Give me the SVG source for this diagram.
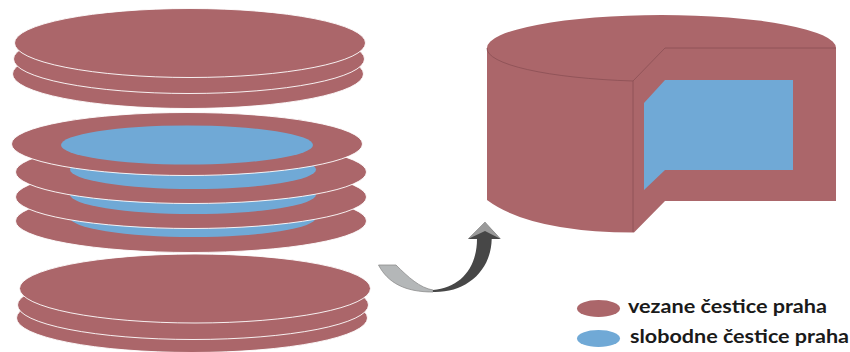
<svg xmlns="http://www.w3.org/2000/svg" width="850" height="352" viewBox="0 0 850 352">
<style>
.d{fill:#ab666a;stroke:#fff;stroke-width:.9}
.b{fill:#70a9d6}
.e{fill:none;stroke:#8a4f54;stroke-width:.8}
.t{font-family:Lato,"Open Sans","Liberation Sans",sans-serif;font-weight:700;font-size:19px;fill:#1a1a1a}
</style>
<rect width="850" height="352" fill="#fff"/>
<g id="top-stack">
<ellipse class="d" cx="188" cy="74" rx="175.5" ry="34.5"/>
<ellipse class="d" cx="189" cy="59" rx="175.5" ry="34.5"/>
<ellipse class="d" cx="190" cy="43" rx="175.5" ry="34.5"/>
</g>
<g id="middle-stack">
<ellipse class="d" cx="191" cy="221" rx="175.5" ry="31.5"/>
<ellipse class="b" cx="193" cy="217.5" rx="123" ry="19.5"/>
<ellipse class="d" cx="191" cy="197" rx="175.5" ry="31.5"/>
<ellipse class="b" cx="193" cy="194.5" rx="123" ry="19.5"/>
<ellipse class="d" cx="191" cy="172" rx="175.5" ry="31.5"/>
<ellipse class="b" cx="193" cy="169.5" rx="123" ry="19.5"/>
<ellipse class="d" cx="187" cy="144" rx="175.5" ry="31.5"/>
<ellipse class="b" cx="187" cy="145" rx="126" ry="19.5"/>
</g>
<g id="bottom-stack">
<ellipse class="d" cx="192" cy="318" rx="175.5" ry="34.5"/>
<ellipse class="d" cx="193" cy="305" rx="175.5" ry="34.5"/>
<ellipse class="d" cx="195" cy="288.5" rx="175.5" ry="34.5"/>
</g>
<g id="cylinder">
<path d="M487,48A174.5,33 0 0 1 836,48V201H665L634,232.5Q530,232 487,200Z" fill="#ab666a"/>
<path class="e" d="M487,48A174.5,33 0 0 0 633,81L665,48H836M633,81V232"/>
<path class="b" d="M665,80H793V170H665L644,190V103Z"/>
</g>
<g id="arrow">
<path d="M378.5,265H396C408,277 420,288 433,290V292C405,292 388,283 378.5,265Z" fill="#b4b7b8" stroke="#8d8d8d" stroke-width=".8"/>
<path d="M433,290C460,288 477,268 477,239H468L485,222L500.7,239H491.7C491,272 465,293 433,292Z" fill="#474747"/>
<path d="M468,239L485,222L500.7,239L485,231Z" fill="#9a9a9a"/>
</g>
<g id="legend">
<ellipse cx="598.5" cy="308.5" rx="21.5" ry="8.5" fill="#ab666a"/>
<text class="t" x="628" y="313" textLength="199" lengthAdjust="spacingAndGlyphs">vezane čestice praha</text>
<ellipse cx="598.5" cy="338.5" rx="21.5" ry="8.5" fill="#70a9d6"/>
<text class="t" x="630" y="343" textLength="219" lengthAdjust="spacingAndGlyphs">slobodne čestice praha</text>
</g>
</svg>
